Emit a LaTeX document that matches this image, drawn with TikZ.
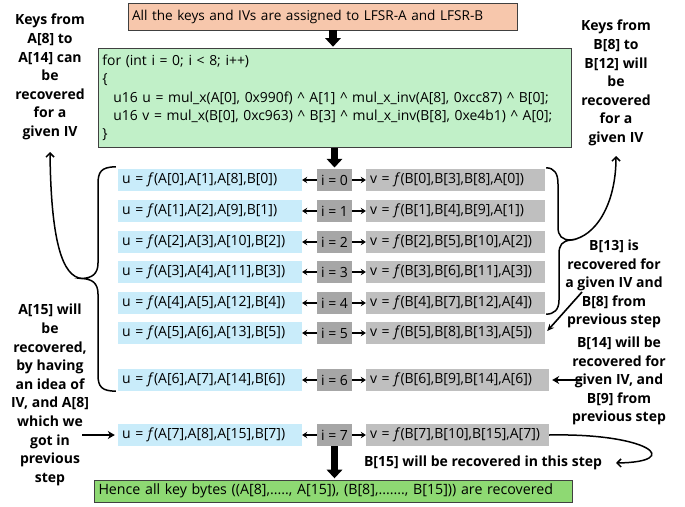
\documentclass[tikz,border=0pt]{standalone}
\usepackage{fontspec}
\setmainfont{Open Sans}
\usetikzlibrary{arrows.meta,calc}
\definecolor{ublue}{HTML}{C9ECFA}
\definecolor{igray}{HTML}{A6A6A6}
\definecolor{vgray}{HTML}{BFBFBF}
\definecolor{codegreen}{HTML}{C1F0C8}
\definecolor{hencegreen}{HTML}{8ED973}
\definecolor{salmon}{HTML}{F7C7AC}
\definecolor{bordc}{HTML}{404040}
\newcommand\rowfont{\fontsize{14}{16}\selectfont}
\newcommand\codefont{\fontsize{13.9}{18.3}\selectfont}
\newcommand\labfont{\fontsize{14}{18.6}\selectfont\bfseries}
\begin{document}
\begin{tikzpicture}[x=1pt,y=-1pt,
  ubox/.style={fill=ublue, text width=176pt, inner xsep=4pt, inner ysep=0pt, minimum height=22pt, align=left, font=\rowfont},
  ibox/.style={fill=igray, minimum width=35pt, minimum height=22pt, inner sep=0pt, font=\rowfont},
  vbox/.style={fill=vgray, text width=171pt, inner xsep=4pt, inner ysep=0pt, minimum height=22pt, align=left, font=\rowfont},
  vboxw/.style={vbox, text width=175pt},
  rowarr/.style={line width=1.6pt, -{Stealth[length=5pt,width=6.5pt]}},
  fatarr/.style={line width=2.4pt, -{Stealth[length=7pt,width=8pt]}},
  thinarr/.style={line width=1.6pt, -{Stealth[length=7pt,width=6pt]}},
  curvearr/.style={line width=1.5pt, -{Straight Barb[length=4pt,width=8pt]}},
  bracestyle/.style={line width=1.5pt},
  label/.style={align=center, font=\labfont, inner sep=0pt},
  blockout/.style={draw=none, yellow, line width=10pt, -{Triangle[length=11pt,width=19pt]}},
  blockin/.style={black, line width=7.6pt, shorten >=1.3pt, -{Triangle[length=8.6pt,width=15.4pt]}},
]
\useasboundingbox (0,0) rectangle (685,506);

% top box
\node[draw=bordc, line width=0.8pt, fill=salmon, text width=381pt, inner xsep=4pt, inner ysep=0pt,
      minimum height=27pt, align=left, font=\fontsize{13.6}{15}\selectfont] (top) at (322.5,16.5)
      {All the keys and IVs are assigned to LFSR-A and LFSR-B};

% code box
\node[draw=bordc, line width=0.8pt, fill=codegreen, text width=465pt, inner xsep=4pt, inner ysep=0pt,
      minimum height=99pt, align=left, font=\codefont, anchor=north west] (code) at (98,48)
  {for (int i = 0; i < 8; i++)\\
   \{\\
   \hspace*{11pt}u16 u = mul\_x(A[0], 0x990f) \textasciicircum{} A[1] \textasciicircum{} mul\_x\_inv(A[8], 0xcc87) \textasciicircum{} B[0];\\
   \hspace*{11pt}u16 v = mul\_x(B[0], 0xc963) \textasciicircum{} B[3] \textasciicircum{} mul\_x\_inv(B[8], 0xe4b1) \textasciicircum{} A[0];\\
   \}};

% rows
\foreach \k/\y/\vs/\vx/\ut/\vt in {
  0/180/vbox/455.5/{A[0],A[1],A[8],B[0]}/{B[0],B[3],B[8],A[0]},
  1/211/vbox/455.5/{A[1],A[2],A[9],B[1]}/{B[1],B[4],B[9],A[1]},
  2/242/vbox/455.5/{A[2],A[3],A[10],B[2]}/{B[2],B[5],B[10],A[2]},
  3/272/vbox/455.5/{A[3],A[4],A[11],B[3]}/{B[3],B[6],B[11],A[3]},
  4/303/vbox/455.5/{A[4],A[5],A[12],B[4]}/{B[4],B[7],B[12],A[4]},
  5/333/vbox/455.5/{A[5],A[6],A[13],B[5]}/{B[5],B[8],B[13],A[5]},
  6/380/vboxw/457.5/{A[6],A[7],A[14],B[6]}/{B[6],B[9],B[14],A[6]},
  7/435/vboxw/457.5/{A[7],A[8],A[15],B[7]}/{B[7],B[10],B[15],A[7]}}{
  \node[ubox] (u\k) at (210,\y) {u = \textit{f}(\ut)};
  \node[ibox] (i\k) at (334.5,\y) {i = \k};
  \node[\vs] (v\k) at (\vx,\y) {v = \textit{f}(\vt)};
  \draw[rowarr] (i\k.west) -- (u\k.east);
  \draw[rowarr] (i\k.east) -- (v\k.west);
}

% hence box
\node[draw=bordc, line width=0.8pt, fill=hencegreen, text width=470pt, inner xsep=4pt, inner ysep=0pt,
      minimum height=22pt, align=left, font=\fontsize{14.2}{16}\selectfont] (hence) at (333.5,491)
  {Hence all key bytes ((A[8],....., A[15]), (B[8],......., B[15])) are recovered};

% block arrows
\coordinate (ax) at (333,0);
\draw[blockout] (top.south -| ax) -- (code.north -| ax);
\draw[blockin] (top.south -| ax) -- (code.north -| ax);
\draw[blockout] (code.south -| i0.north) -- (i0.north);
\draw[blockin] (code.south -| i0.north) -- (i0.north);
\draw[blockout] (i7.south) -- (hence.north -| i7.south);
\draw[blockin] (i7.south) -- (hence.north -| i7.south);

% labels
\node[label] (ltop) at (50,77) {Keys from\\A[8] to\\A[14] can\\be\\recovered\\for a\\given IV};
\node[label] (rtop) at (616,83) {Keys from\\B[8] to\\B[12] will\\be\\recovered\\for a\\given IV};
\node[label] (lbot) at (50,395) {A[15] will\\be\\recovered,\\by having\\an idea of\\IV, and A[8]\\which we\\got in\\previous\\step};
\node[label] (b13) at (614,284) {B[13] is\\recovered for\\a given IV and\\B[8] from\\previous step};
\node[label] (b14) at (619,381) {B[14] will be\\recovered for\\given IV, and\\B[9] from\\previous step};
\node[label] (b15) at (483,463) {B[15] will be recovered in this step};

% left brace
\coordinate (ltip) at (82,278.5);
\draw[bracestyle] ($(u0.north west)+(-2,-2)$) .. controls (101,167) and (98,172) .. (98,184) -- (98,263)
   .. controls (98,274) and (92,278) .. (ltip) .. controls (92,279) and (98,283) .. (98,294) -- (98,375)
   .. controls (98,387) and (102,391) .. ($(u6.south west)+(-2,0)$);
\draw[curvearr] (ltip) .. controls (62,277) and (51,240) .. (ltop.south |- 0,152);

% right brace
\coordinate (rtip) at (571,240);
\draw[bracestyle] ($(v0.north east)+(1,-1)$) .. controls (554,168) and (558,173) .. (558,184) -- (558,227)
   .. controls (558,236) and (562,240) .. (rtip) .. controls (562,241) and (559,245) .. (559,254) -- (559,300)
   .. controls (559,310) and (554,314) .. ($(v4.south east)+(1,0)$);
\draw[curvearr] (rtip) .. controls (595,237) and (616,205) .. (rtop.south |- 0,156);

% other arrows
\coordinate (b13s) at (582,292);
\draw[thinarr] (b13s) -- ($(v5.east)+(2,-2)$);
\coordinate (b14s) at (582,380);
\draw[fatarr] (b14s) -- ($(v6.east)+(3,0)$);
\coordinate (l7s) at (82,435);
\draw[fatarr] (l7s) -- ($(u7.west)+(-3,0)$);
\draw[curvearr] (v7.east) .. controls (650,433) and (684,462) .. (b15.east -| 616,0);
\end{tikzpicture}
\end{document}
